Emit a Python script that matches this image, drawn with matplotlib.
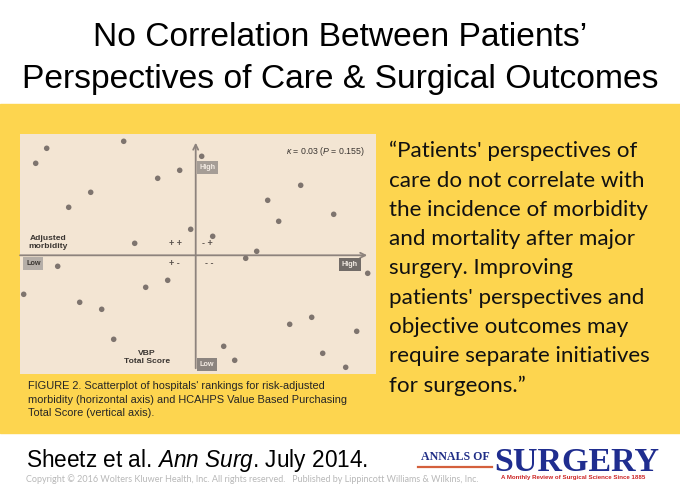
import matplotlib
matplotlib.use("Agg")
import matplotlib.pyplot as plt
from matplotlib.patches import Rectangle

plt.rcParams['font.family'] = ['Liberation Sans', 'DejaVu Sans']
plt.rcParams['mathtext.fontset'] = 'custom'
plt.rcParams['mathtext.rm'] = 'Liberation Sans'
plt.rcParams['mathtext.it'] = 'Liberation Sans:italic'

# Данные: ранги больниц (ось X - скорректированная заболеваемость, ось Y - VBP Total Score)
morbidity_rank = [-149, -160, -72, 6, -16, -38, -105, -127, 105, 72, 138, 83, -5, 17, -61, 61,
                  50, -138, 172, -28, -50, -172, -116, -94, 116, 94, 161, -82, 28, 127, 39, 150]
vbp_rank = [107, 92, 114, 99, 85, 77, 63, 48, 70, 55, 41, 34, 26, 19, 12, 4,
            -3, -11, -18, -25, -32, -39, -47, -54, -62, -69, -76, -84, -91, -98, -105, -112]

title_lines = ["No Correlation Between Patients\u2019", "Perspectives of Care & Surgical Outcomes"]
quote_lines = ["\u201cPatients' perspectives of", "care do not correlate with", "the incidence of morbidity",
               "and mortality after major", "surgery. Improving", "patients' perspectives and",
               "objective outcomes may", "require separate initiatives", "for surgeons.\u201d"]
caption_lines = ["FIGURE 2. Scatterplot of hospitals' rankings for risk-adjusted",
                 "morbidity (horizontal axis) and HCAHPS Value Based Purchasing",
                 "Total Score (vertical axis)."]
quadrant_marks = ["+ +", "- +", "+ -", "- -"]

W, H = 680, 495
fig = plt.figure(figsize=(W / 100, H / 100), dpi=100)
fig.patch.set_facecolor('white')

# Фон слайда (координаты в пикселях)
bg = fig.add_axes([0, 0, 1, 1])
bg.set_xlim(0, W)
bg.set_ylim(H, 0)
bg.axis('off')
bg.add_patch(Rectangle((0, 104), W, 329, color='#FDD54F', zorder=0))

for i, line in enumerate(title_lines):
    bg.text(340, 46 + i * 41.7, line, ha='center', va='baseline', fontsize=24.2, color='black')

for i, line in enumerate(quote_lines):
    bg.text(389, 157.3 + i * 29.3, line, ha='left', va='baseline', fontsize=16.1,
            family=['Lato', 'DejaVu Sans'], color='#111111')

for i, line in enumerate(caption_lines):
    bg.text(28.3, 389.3 + i * 13.5, line, ha='left', va='baseline', fontsize=7.9, color='#262626')

bg.text(26, 466.7, r'Sheetz et al. $\it{Ann\ Surg}$. July 2014.', ha='left', va='baseline',
        fontsize=16.3, color='black')
bg.text(26, 481.7, 'Copyright \u00a9 2016 Wolters Kluwer Health, Inc. All rights reserved.   '
        'Published by Lippincott Williams & Wilkins, Inc.', ha='left', va='baseline',
        fontsize=6.5, family=['Lato', 'DejaVu Sans'], color='#b8b8b8')

# Логотип журнала
bg.text(455, 460, 'ANNALS OF', ha='center', va='baseline', fontsize=8.6, fontweight='bold',
        family=['Liberation Serif'], color='#1f2d86')
bg.plot([418, 492], [467.3, 467.3], color='#d4603c', lw=1.6)
bg.text(576.5, 471, 'SURGERY', ha='center', va='baseline', fontsize=24.5, fontweight='bold',
        family=['Liberation Serif'], color='#1f2d8f')
bg.text(573, 479.5, 'A Monthly Review of Surgical Science Since 1885', ha='center', va='baseline',
        fontsize=4.4, fontweight='bold', color='#cc2222')

# Панель с диаграммой рассеяния
ax = fig.add_axes([20 / W, (H - 374) / H, 356 / W, 240 / H])
ax.set_facecolor('#F3E5D3')
ax.set_xlim(-175.7, 180.3)
ax.set_ylim(-118.7, 121.3)
ax.set_xticks([])
ax.set_yticks([])
for s in ax.spines.values():
    s.set_visible(False)

axis_color = '#8d837d'
ax.annotate('', xy=(0, 112.6), xytext=(0, -113), arrowprops=dict(arrowstyle='->', color=axis_color,
            lw=1.3, shrinkA=0, shrinkB=0, mutation_scale=9))
ax.annotate('', xy=(171.5, 0), xytext=(-175.7, 0), arrowprops=dict(arrowstyle='->', color=axis_color,
            lw=1.3, shrinkA=0, shrinkB=0, mutation_scale=9))

ax.scatter(morbidity_rank, vbp_rank, s=16, color='#7e746e', edgecolors='none', zorder=3, clip_on=False)

box_kw = dict(ha='center', va='center', fontsize=5.2, fontweight='bold', zorder=4)
ax.text(11.8, 88, 'High', color='#f4ece4', bbox=dict(boxstyle='square,pad=0.4', fc='#a59d96', ec='none'), **box_kw)
ax.text(11.1, -109.5, 'Low', color='#f4ece4', bbox=dict(boxstyle='square,pad=0.4', fc='#8b847f', ec='none'), **box_kw)
ax.text(-162.4, -7.9, 'Low', color='#3a3531', bbox=dict(boxstyle='square,pad=0.4', fc='#b5aea8', ec='none'), **box_kw)
ax.text(154, -9.5, 'High', color='#f4ece4', bbox=dict(boxstyle='square,pad=0.4', fc='#726c68', ec='none'), **box_kw)

ax.text(169, 103.6, r'$\kappa$ = 0.03 ($\it{P}$ = 0.155)', ha='right', va='center', fontsize=6.3, color='#3a3531')
ax.text(-148, 12.6, 'Adjusted\nmorbidity', ha='center', va='center', fontsize=6.1, fontweight='bold',
        color='#3a3531', linespacing=1.1)
ax.text(-49, -102.4, 'VBP\nTotal Score', ha='center', va='center', fontsize=6.1, fontweight='bold',
        color='#3a3531', linespacing=1.1)

mark_pos = [(-20.4, 11.3), (11.6, 11.3), (-21.4, -8), (13.3, -8)]
for m, (mx, my) in zip(quadrant_marks, mark_pos):
    ax.text(mx, my, m, ha='center', va='center', fontsize=6.5, fontweight='bold', color='#5a524d')

fig.savefig('out.png', dpi=100)
